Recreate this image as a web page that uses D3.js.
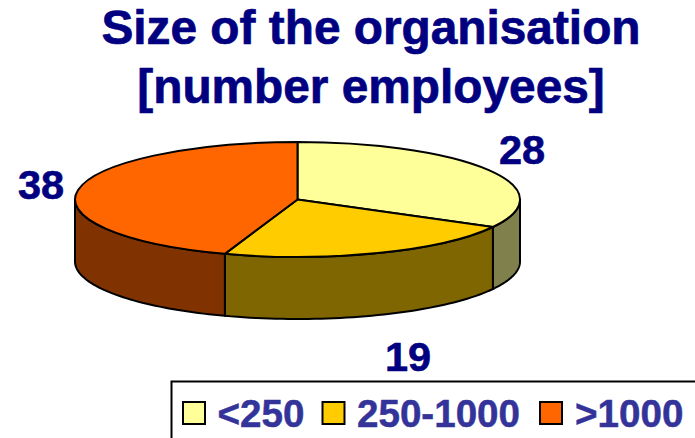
<!DOCTYPE html>
<html><head><meta charset="utf-8">
<script src="https://cdn.jsdelivr.net/npm/d3@7"></script>
<style>html,body{margin:0;padding:0;background:#fff;overflow:hidden}svg{display:block}text{font-family:"Liberation Sans",Arial,sans-serif;font-weight:bold;stroke-linejoin:round}</style>
</head><body><svg id="c" width="695" height="438"></svg>
<script>
const titleLines = ["Size of the organisation", "[number employees]"];
const categories = ["<250", "250-1000", ">1000"];
const values = [28, 19, 38];
const topColors = ["#FFFF99", "#FFCC00", "#FF6600"];
const wallColors = ["#80804D", "#806600", "#803300"];

const W = 695, H = 438;
const cx = 297.5, cy = 199.5, rx = 222.5, ry = 57.5, depth = 62;
const svg = d3.select("#c");

svg.selectAll("text.title").data(titleLines).join("text").attr("class", "title")
  .attr("x", 371).attr("y", (d, i) => 44 + i * 59).attr("text-anchor", "middle")
  .attr("font-size", 47.8).attr("fill", "#000080").attr("stroke", "#000080").attr("stroke-width", 0.7).text(d => d);

const arcs = d3.pie().sort(null).value(d => d)(values);
const px = a => cx + rx * Math.sin(a);
const py = (a, dz = 0) => cy - ry * Math.cos(a) + dz;
const lo = Math.PI / 2, hi = 3 * Math.PI / 2;

function wallPath(a0, a1) {
  const n = 48, ts = d3.range(n + 1).map(i => a0 + (a1 - a0) * i / n);
  const pts = ts.map(t => [px(t), py(t)]).concat(ts.slice().reverse().map(t => [px(t), py(t, depth)]));
  return d3.line()(pts) + "Z";
}
svg.append("g").selectAll("path").data(arcs.filter(d => d.endAngle > lo && d.startAngle < hi)).join("path")
  .attr("d", d => wallPath(Math.max(d.startAngle, lo), Math.min(d.endAngle, hi)))
  .attr("fill", d => wallColors[d.index]).attr("stroke", "#000").attr("stroke-width", 2).attr("stroke-linejoin", "round");

const arc = d3.arc().innerRadius(0).outerRadius(rx);
svg.append("g").attr("transform", `translate(${cx},${cy}) scale(1,${ry / rx})`)
  .selectAll("path").data(arcs).join("path").attr("d", arc)
  .attr("fill", d => topColors[d.index]).attr("stroke", "#000").attr("stroke-width", 2)
  .attr("stroke-linejoin", "round").attr("vector-effect", "non-scaling-stroke");

const labelPos = [[522, 164], [408, 371], [41, 199]];
svg.selectAll("text.val").data(values).join("text").attr("class", "val")
  .attr("x", (d, i) => labelPos[i][0]).attr("y", (d, i) => labelPos[i][1]).attr("text-anchor", "middle")
  .attr("font-size", 41.5).attr("fill", "#000080").attr("stroke", "#000080").attr("stroke-width", 0.6).text(d => d);

svg.append("rect").attr("x", 171.5).attr("y", 381.5).attr("width", W).attr("height", H)
  .attr("fill", "#fff").attr("stroke", "#000").attr("stroke-width", 2);
const swatchX = [183, 322.5, 540], textX = [217.5, 357, 575];
const lg = svg.append("g").selectAll("g").data(categories).join("g");
lg.append("rect").attr("x", (d, i) => swatchX[i]).attr("y", 402).attr("width", 22).attr("height", 22)
  .attr("fill", (d, i) => topColors[i]).attr("stroke", "#000").attr("stroke-width", 2);
lg.append("text").attr("x", (d, i) => textX[i]).attr("y", 426.5).attr("font-size", 38.6)
  .attr("fill", "#333399").attr("stroke", "#333399").attr("stroke-width", 0.5).text(d => d);
</script></body></html>
